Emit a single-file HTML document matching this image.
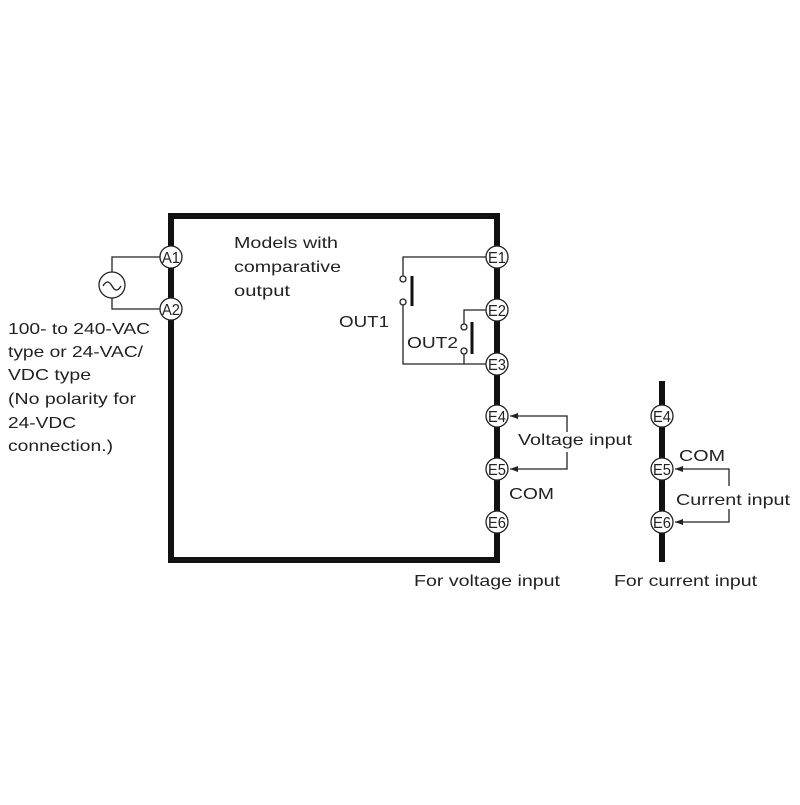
<!DOCTYPE html>
<html><head><style>
html,body{margin:0;padding:0;background:#fff;}
svg text{font-family:"Liberation Sans",sans-serif;fill:#222;}
</style></head><body>
<svg width="800" height="800" viewBox="0 0 800 800" xmlns="http://www.w3.org/2000/svg">
<defs><marker id="ar" markerWidth="8" markerHeight="6" refX="8" refY="3" orient="auto" markerUnits="userSpaceOnUse"><path d="M0,0 L8,3 L0,6 z" fill="#222"/></marker></defs>
<rect x="171" y="216" width="326" height="344" fill="none" stroke="#111" stroke-width="6"/>
<line x1="662" y1="381" x2="662" y2="562" stroke="#111" stroke-width="6"/>
<g stroke="#222" stroke-width="1.3" fill="none">
<polyline points="160,257 112,257 112,272"/>
<polyline points="112,298 112,309 160,309"/>
<circle cx="112" cy="285" r="13" fill="#fff"/>
<path d="M103,286 q4.5,-8 9,0 t9,0"/>
<polyline points="486,257 403,257 403,276"/>
<polyline points="403,305 403,364 486,364"/>
<circle cx="403" cy="279" r="3" fill="#fff"/>
<circle cx="403" cy="302" r="3" fill="#fff"/>
<polyline points="486,310 464,310 464,324"/>
<polyline points="464,354 464,364"/>
<circle cx="464" cy="327" r="3" fill="#fff"/>
<circle cx="464" cy="351" r="3" fill="#fff"/>
<polyline points="567,432 567,416 510,416" marker-end="url(#ar)"/>
<polyline points="567,452 567,469 510,469" marker-end="url(#ar)"/>
<polyline points="729,486 729,469 675,469" marker-end="url(#ar)"/>
<polyline points="729,509 729,522 675,522" marker-end="url(#ar)"/>
</g>
<line x1="412" y1="276" x2="412" y2="306" stroke="#111" stroke-width="3"/>
<line x1="472" y1="322" x2="472" y2="354" stroke="#111" stroke-width="3"/>
<g stroke="#222" stroke-width="1.3" fill="#fff">
<circle cx="171" cy="257" r="11"/><circle cx="171" cy="309" r="11"/>
<circle cx="497" cy="257" r="11"/><circle cx="497" cy="310" r="11"/><circle cx="497" cy="364" r="11"/>
<circle cx="497" cy="416" r="11"/><circle cx="497" cy="469" r="11"/><circle cx="497" cy="522" r="11"/>
<circle cx="662" cy="416" r="11"/><circle cx="662" cy="469" r="11"/><circle cx="662" cy="522" r="11"/>
</g>
<g font-size="16" text-anchor="middle">
<text x="171" y="263" textLength="18" lengthAdjust="spacingAndGlyphs">A1</text><text x="171" y="315" textLength="18" lengthAdjust="spacingAndGlyphs">A2</text>
<text x="497" y="263" textLength="18" lengthAdjust="spacingAndGlyphs">E1</text><text x="497" y="316" textLength="18" lengthAdjust="spacingAndGlyphs">E2</text><text x="497" y="370" textLength="18" lengthAdjust="spacingAndGlyphs">E3</text>
<text x="497" y="422" textLength="18" lengthAdjust="spacingAndGlyphs">E4</text><text x="497" y="475" textLength="18" lengthAdjust="spacingAndGlyphs">E5</text><text x="497" y="528" textLength="18" lengthAdjust="spacingAndGlyphs">E6</text>
<text x="662" y="422" textLength="18" lengthAdjust="spacingAndGlyphs">E4</text><text x="662" y="475" textLength="18" lengthAdjust="spacingAndGlyphs">E5</text><text x="662" y="528" textLength="18" lengthAdjust="spacingAndGlyphs">E6</text>
</g>
<g font-size="16">
<text x="234" y="248" textLength="104" lengthAdjust="spacingAndGlyphs">Models with</text>
<text x="234" y="272" textLength="107" lengthAdjust="spacingAndGlyphs">comparative</text>
<text x="234" y="296" textLength="56" lengthAdjust="spacingAndGlyphs">output</text>
<text x="339" y="327" textLength="50" lengthAdjust="spacingAndGlyphs">OUT1</text>
<text x="407" y="348" textLength="51" lengthAdjust="spacingAndGlyphs">OUT2</text>
<text x="8" y="334" textLength="142" lengthAdjust="spacingAndGlyphs">100- to 240-VAC</text>
<text x="8" y="357" textLength="135" lengthAdjust="spacingAndGlyphs">type or 24-VAC/</text>
<text x="8" y="380" textLength="83" lengthAdjust="spacingAndGlyphs">VDC type</text>
<text x="8" y="404" textLength="128" lengthAdjust="spacingAndGlyphs">(No polarity for</text>
<text x="8" y="428" textLength="68" lengthAdjust="spacingAndGlyphs">24-VDC</text>
<text x="8" y="451" textLength="105" lengthAdjust="spacingAndGlyphs">connection.)</text>
<text x="518" y="445" textLength="114" lengthAdjust="spacingAndGlyphs">Voltage input</text>
<text x="509" y="499" textLength="45" lengthAdjust="spacingAndGlyphs">COM</text>
<text x="679" y="461" textLength="46" lengthAdjust="spacingAndGlyphs">COM</text>
<text x="676" y="505" textLength="114" lengthAdjust="spacingAndGlyphs">Current input</text>
<text x="414" y="586" textLength="146" lengthAdjust="spacingAndGlyphs">For voltage input</text>
<text x="614" y="586" textLength="143" lengthAdjust="spacingAndGlyphs">For current input</text>
</g>
</svg>
</body></html>
